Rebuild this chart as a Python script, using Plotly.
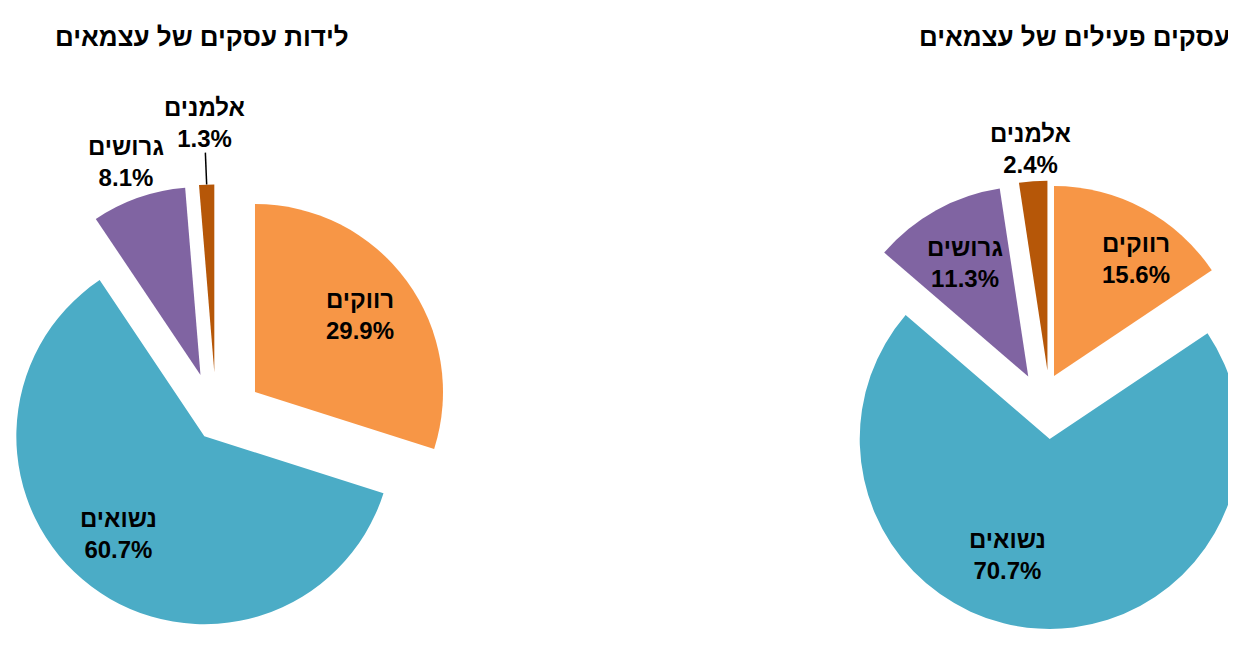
import math
import plotly.graph_objects as go

# ---- data ----
labels = ["רווקים", "נשואים", "גרושים", "אלמנים"]
births_values = [29.9, 60.7, 8.1, 1.3]
active_values = [15.6, 70.7, 11.3, 2.4]
colors = ["#F79646", "#4BACC6", "#8064A2", "#B65708"]
title_births = "לידות עסקים של עצמאים"
title_active = "עסקים פעילים של עצמאים"

# ---- style / layout (pixels) ----
W, H = 1236, 646
FONT = "Liberation Sans, Arial, sans-serif"
LABEL_SIZE = 24
TITLE_SIZE = 26
TITLE_Y = 29
LEADER_GAP = 0.16

pies = [
    dict(values=births_values, title=title_births, title_x=193.5,
         center=(208.3, 412.3), radius=188,
         pull=[0.255, 0.106, 0.255, 0.255],
         text_r=[0.69, 0.69, 1.20, 1.33],
         text_da=[0, 4.5, 0, 0],
         leader=[False, False, False, True]),
    dict(values=active_values, title=title_active, title_x=1066,
         center=(1043, 409.5), radius=190,
         pull=[0.247, 0.113, 0.247, 0.247],
         text_r=[0.70, 0.65, 0.685, 1.17],
         text_da=[0, 16.5, 0, 0],
         leader=[False, False, False, False]),
]

fig = go.Figure()
annotations = []
shapes = []

for p in pies:
    vals = p["values"]
    total = sum(vals)
    r = p["radius"]
    cx, cy = p["center"]
    cum = 0.0
    for i, v in enumerate(vals):
        a0 = 360.0 * cum / total
        a1 = 360.0 * (cum + v) / total
        cum += v
        mid_deg = (a0 + a1) / 2
        mid = math.radians(mid_deg)
        ux, uy = math.sin(mid), -math.cos(mid)
        # exploded slice apex (ideal), then kept inside the figure
        px = cx + p["pull"][i] * r * ux
        py = cy + p["pull"][i] * r * uy
        sx = min(max(px, r), W - r)
        sy = min(max(py, r), H - r)
        fig.add_trace(go.Pie(
            labels=[labels[i], " "], values=[v, total - v],
            sort=False, direction="clockwise", rotation=a0,
            marker=dict(colors=[colors[i], "rgba(0,0,0,0)"], line=dict(width=0)),
            textinfo="none", hoverinfo="skip", showlegend=False,
            domain=dict(x=[(sx - r) / W, (sx + r) / W],
                        y=[(H - sy - r) / H, (H - sy + r) / H]),
        ))
        tr = p["text_r"][i]
        ta = math.radians(mid_deg + p["text_da"][i])
        tx = px + tr * r * math.sin(ta)
        ty = py - tr * r * math.cos(ta)
        annotations.append(dict(
            text="<b>%s<br>%.1f%%</b>" % (labels[i], 100.0 * v / total),
            x=tx / W, y=1 - ty / H, xref="paper", yref="paper",
            xanchor="center", yanchor="middle", showarrow=False, align="center",
            font=dict(size=LABEL_SIZE, family=FONT, color="black"),
        ))
        if p["leader"][i]:
            l0, l1 = r, (tr - LEADER_GAP) * r
            shapes.append(dict(
                type="line", xref="paper", yref="paper",
                x0=(sx + l0 * ux) / W, y0=1 - (sy + l0 * uy) / H,
                x1=(sx + l1 * ux) / W, y1=1 - (sy + l1 * uy) / H,
                line=dict(color="black", width=1.5),
            ))
    annotations.append(dict(
        text="<b>" + p["title"] + "</b>", x=p["title_x"] / W, y=1 - TITLE_Y / H,
        xref="paper", yref="paper", showarrow=False,
        xanchor="center", yanchor="middle",
        font=dict(size=TITLE_SIZE, family=FONT, color="black"),
    ))

fig.update_layout(
    width=W, height=H, autosize=False,
    margin=dict(l=0, r=0, t=0, b=0, pad=0, autoexpand=False),
    paper_bgcolor="white", plot_bgcolor="white",
    font=dict(family=FONT, color="black"),
    annotations=annotations, shapes=shapes,
)

fig.write_html("out.html")
